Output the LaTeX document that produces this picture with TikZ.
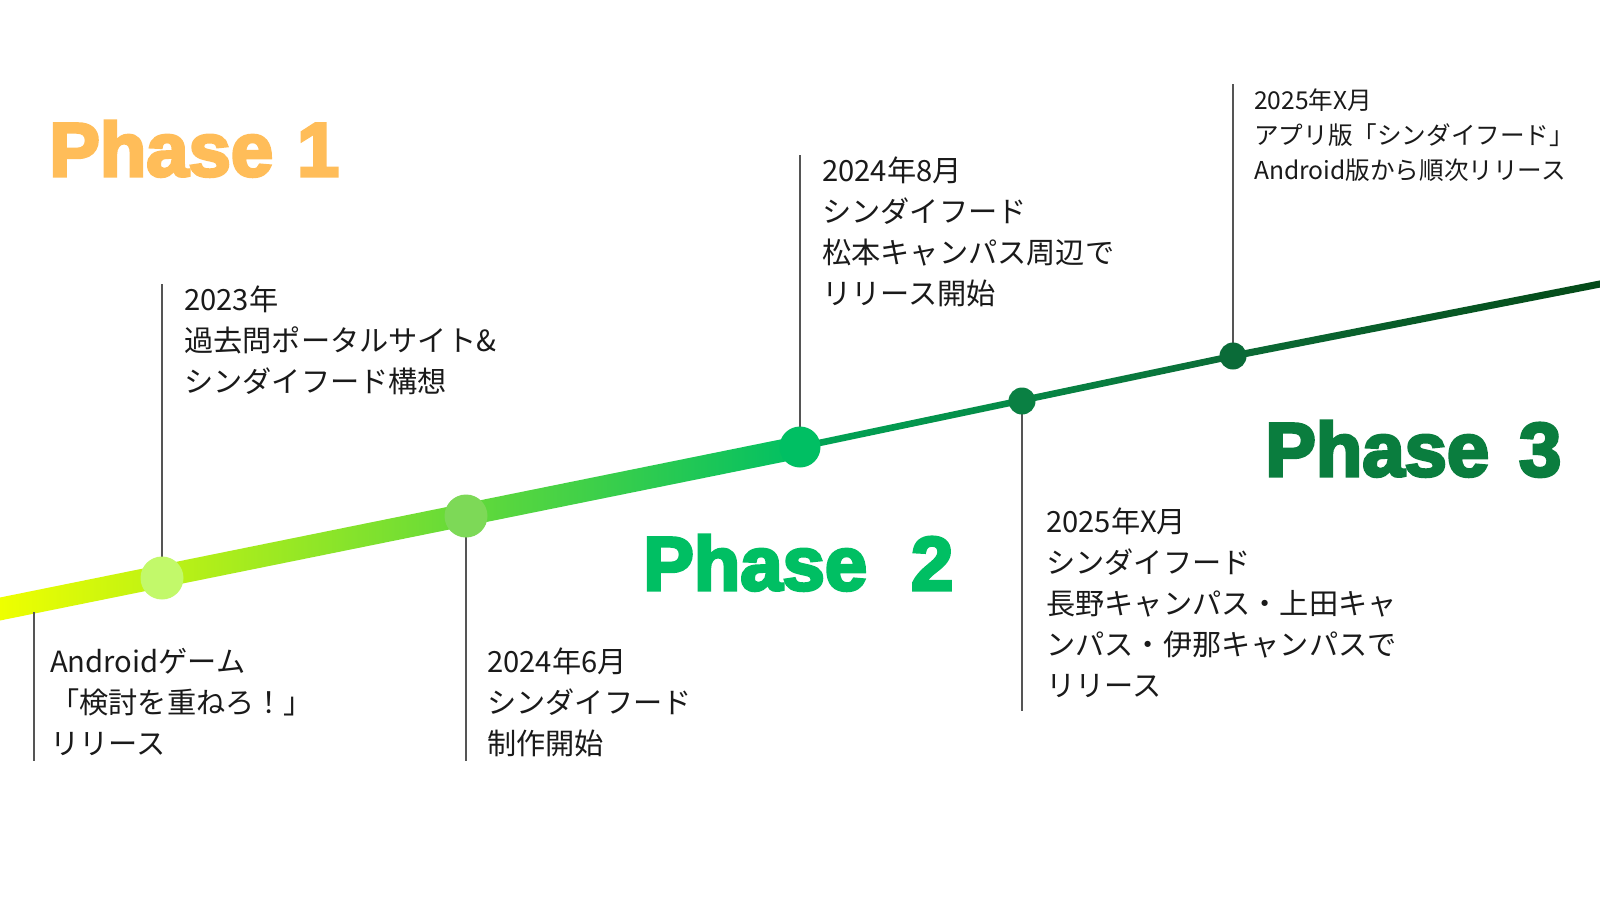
\documentclass[tikz,border=0pt]{standalone}
\usepackage{fontspec}
\usetikzlibrary{calc}
\newfontfamily\jpfont{Noto Sans CJK JP}
\newfontfamily\phasefont[FakeBold=4]{Liberation Sans Bold}
\definecolor{phaseone}{HTML}{FFBD59}
\definecolor{phasetwo}{HTML}{00BF63}
\definecolor{phasethree}{HTML}{0A7D3E}
\definecolor{lineA}{HTML}{EEFF00}
\definecolor{lineB}{HTML}{00BF63}
\definecolor{lineC}{HTML}{00A656}
\definecolor{lineD}{HTML}{0B6B36}
\definecolor{lineE}{HTML}{044A18}
\definecolor{dotone}{HTML}{C2F96A}
\definecolor{dottwo}{HTML}{7DD957}
\definecolor{dotthree}{HTML}{00BF63}
\definecolor{dotfour}{HTML}{0A8043}
\definecolor{dotfive}{HTML}{0A6B38}
\definecolor{tickgray}{HTML}{555555}
\definecolor{txtgray}{HTML}{1A1A1A}
\tikzset{
  dotnode/.style={circle,inner sep=0pt,minimum size=#1},
  tickline/.style={draw=tickgray,line width=1.2pt},
  bigtext/.style={font=\jpfont\fontsize{29.2}{40.8}\selectfont,text=txtgray,align=left,anchor=base west,inner sep=0pt},
  smalltext/.style={font=\jpfont\fontsize{24.6}{35}\selectfont,text=txtgray,align=left,anchor=base west,inner sep=0pt},
  phasetext/.style={font=\phasefont\fontsize{76}{80}\selectfont,anchor=base west,inner sep=0pt},
}
\begin{document}
\begin{tikzpicture}[x=1pt,y=-1pt]
\useasboundingbox (0,0) rectangle (1600,900);
\fill[white] (0,0) rectangle (1600,900);
% key coordinates
\coordinate (s) at (0,609);
\coordinate (p1) at (162,578);
\coordinate (p2) at (466,516);
\coordinate (p3) at (800,447);
\coordinate (p4) at (1022,401);
\coordinate (p5) at (1233,356);
\coordinate (e) at (1600,284);
% thick gradient segment
\shade[left color=lineA,right color=lineB]
  ($(s)+(0,-11.5)$) -- ($(p3)+(0,-11.5)$) -- ($(p3)+(0,11.5)$) -- ($(s)+(0,11.5)$) -- cycle;
% thin segments
\shade[left color=lineC,right color=lineD]
  ($(p3)+(0,-3.4)$) -- ($(p5)+(0,-3.4)$) -- ($(p5)+(0,3.4)$) -- ($(p3)+(0,3.4)$) -- cycle;
\shade[left color=lineD,right color=lineE]
  ($(p5)+(0,-3.6)$) -- ($(e)+(0,-3.6)$) -- ($(e)+(0,3.6)$) -- ($(p5)+(0,3.6)$) -- cycle;
% tick lines
\coordinate (t0top) at (34,612);
\coordinate (t0bot) at (34,761);
\coordinate (t1top) at (162,284);
\coordinate (t2bot) at (466,761);
\coordinate (t3top) at (800,155);
\coordinate (t4bot) at (1022,711);
\coordinate (t5top) at (1233,84);
\draw[tickline] (t0top) -- (t0bot);
\draw[tickline] (t1top) -- (p1);
\draw[tickline] (p2) -- (t2bot);
\draw[tickline] (t3top) -- (p3);
\draw[tickline] (p4) -- (t4bot);
\draw[tickline] (t5top) -- (p5);
% dots
\node[dotnode=43pt,fill=dotone] (d1) at (p1) {};
\node[dotnode=43pt,fill=dottwo] (d2) at (p2) {};
\node[dotnode=41pt,fill=dotthree] (d3) at (p3) {};
\node[dotnode=27pt,fill=dotfour] (d4) at (p4) {};
\node[dotnode=27pt,fill=dotfive] (d5) at (p5) {};
% texts (anchor = baseline of last line)
\node[bigtext] (tx0) at (50,754) {Androidゲーム\\「検討を重ねろ！」\\リリース};
\node[bigtext] (tx1) at (184,392) {2023年\\過去問ポータルサイト\&\\シンダイフード構想};
\node[bigtext] (tx2) at (487,754) {2024年6月\\シンダイフード\\制作開始};
\node[bigtext] (tx3) at (822,304) {2024年8月\\シンダイフード\\松本キャンパス周辺で\\リリース開始};
\node[bigtext] (tx4) at (1046,696) {2025年X月\\シンダイフード\\長野キャンパス・上田キャ\\ンパス・伊那キャンパスで\\リリース};
\node[smalltext] (tx5) at (1254,179) {2025年X月\\アプリ版「シンダイフード」\\Android版から順次リリース};
% phase labels
\node[phasetext,text=phaseone] (ph1) at (49,176) {Phase\hspace{24pt}1};
\node[phasetext,text=phasetwo] (ph2) at (643,590) {Phase\hspace{44pt}2};
\node[phasetext,text=phasethree] (ph3) at (1265,476) {Phase\hspace{30pt}3};
\end{tikzpicture}
\end{document}
